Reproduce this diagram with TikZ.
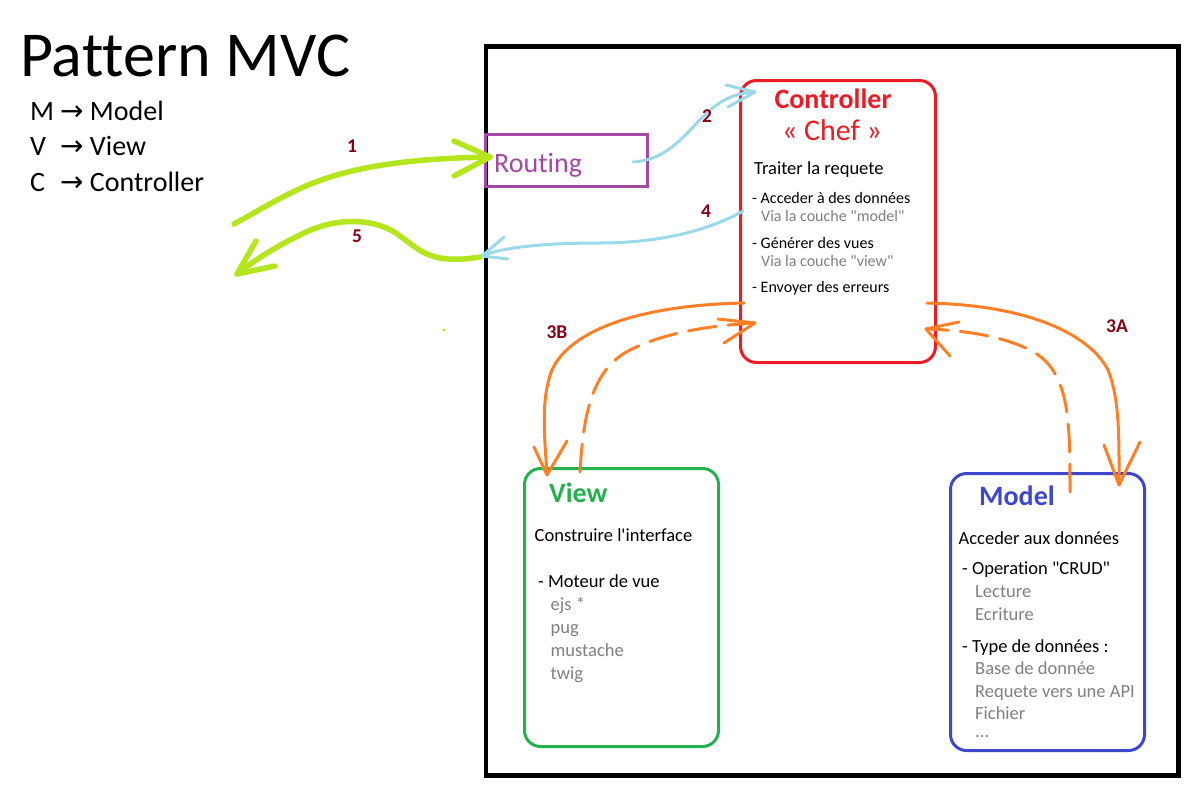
\documentclass[tikz,border=0pt]{standalone}
\usepackage{fontspec}
\setmainfont{Carlito}[Ligatures={TeXOff,NoCommon}]
\newfontfamily\arrowfont{DejaVu Sans}
\definecolor{ctrlred}{HTML}{ED1C24}
\definecolor{viewgreen}{HTML}{22B14C}
\definecolor{modelblue}{HTML}{3F48CC}
\definecolor{routepurple}{HTML}{A349A4}
\definecolor{callorange}{HTML}{FF7F27}
\definecolor{reqlime}{HTML}{B5E61D}
\definecolor{replyblue}{HTML}{99D9EA}
\definecolor{numred}{HTML}{880015}
\definecolor{notegray}{HTML}{7F7F7F}
\begin{document}
\begin{tikzpicture}[x=1pt,y=-1pt,
  big/.style={inner sep=0pt,font=\fontsize{28}{34}\selectfont},
  head/.style={inner sep=0pt,anchor=base west,font=\fontsize{28}{34}\selectfont\bfseries},
  body/.style={inner sep=0pt,anchor=base west,font=\fontsize{18.5}{22}\selectfont},
  fine/.style={inner sep=0pt,anchor=base west,font=\fontsize{16}{19}\selectfont},
  note/.style={text=notegray},
  num/.style={inner sep=0pt,text=numred,font=\fontsize{19.5}{22}\selectfont\bfseries},
  box/.style={draw=#1,line width=3pt,rounded corners=16pt,anchor=north west},
  req/.style={draw=reqlime,line width=5.5pt,line cap=round,line join=round},
  resp/.style={draw=replyblue,line width=3pt,line cap=round,line join=round},
  call/.style={draw=callorange,line width=3pt,line cap=round,line join=round},
  callback/.style={call,dash pattern=on 28pt off 12pt}]
\useasboundingbox (0,0) rectangle (1195,796);

\node[inner sep=0pt,anchor=base west,font=\fontsize{64}{72}\selectfont] (ttl) at (20,76) {Pattern MVC};
\node[big,anchor=base west] (legM) at (30,120) {\makebox[30pt][l]{M}{\arrowfont →}\ Model};
\node[big,anchor=base west] (legV) at (30,155.5) {\makebox[30pt][l]{V}{\arrowfont →}\ View};
\node[big,anchor=base west] (legC) at (30,191) {\makebox[30pt][l]{C}{\arrowfont →}\ Controller};

\node[draw,line width=4.5pt,anchor=north west,minimum width=692.5pt,minimum height=729pt] (app) at (483.5,44) {};
\node[draw=routepurple,line width=3pt,anchor=north west,minimum width=162pt,minimum height=52pt] (route) at (484,132.5) {};
\node[big,anchor=base west,text=routepurple] (routeTxt) at (494,172) {Routing};

\node[box=ctrlred,minimum width=195pt,minimum height=282pt] (ctrl) at (739,79) {};
\node[head,anchor=base,text=ctrlred] (ctrlTtl) at (833,108) {Controller};
\node[big,anchor=base,text=ctrlred,font=\fontsize{30}{34}\selectfont] (ctrlChef) at (832,140) {« Chef »};
\node[body] (ctrlMain) at (754,174) {Traiter la requete};
\node[fine] (ctrlA) at (752,203) {- Acceder à des données};
\node[fine,note] (ctrlAvia) at (761,221.5) {Via la couche "model"};
\node[fine] (ctrlB) at (752,248) {- Générer des vues};
\node[fine,note] (ctrlBvia) at (761,266.5) {Via la couche "view"};
\node[fine] (ctrlC) at (752,292.5) {- Envoyer des erreurs};

\node[box=viewgreen,minimum width=194pt,minimum height=278pt] (view) at (523,467) {};
\node[head,text=viewgreen] (viewTtl) at (549,502) {View};
\node[body] (viewMain) at (534.5,541) {Construire l'interface};
\node[body] (viewEng) at (538,587) {- Moteur de vue};
\node[body,note] (viewEjs) at (550.5,610) {ejs *};
\node[body,note] (viewPug) at (550.5,633) {pug};
\node[body,note] (viewMus) at (550.5,656) {mustache};
\node[body,note] (viewTwig) at (550.5,679) {twig};

\node[box=modelblue,minimum width=194pt,minimum height=277pt] (model) at (949,472) {};
\node[head,text=modelblue] (modelTtl) at (979,505) {Model};
\node[body] (modelMain) at (958.5,544) {Acceder aux données};
\node[body] (modelCrud) at (962,574) {- Operation "CRUD"};
\node[body,note] (modelRead) at (975,597) {Lecture};
\node[body,note] (modelWrite) at (975,620) {Ecriture};
\node[body] (modelType) at (962,652) {- Type de données :};
\node[body,note] (modelDb) at (975,674.5) {Base de donnée};
\node[body,note] (modelApi) at (975,697) {Requete vers une API};
\node[body,note] (modelFile) at (975,719) {Fichier};
\node[body,note] (modelMore) at (975,737) {...};

\coordinate (g1s) at (234,224);
\coordinate (g1t) at (490,157);
\coordinate (g5s) at (480,257);
\coordinate (g5t) at (237,274);
\coordinate (b2s) at (633,162);
\coordinate (b2t) at (755,92);
\coordinate (b4s) at (743,211);
\coordinate (b4t) at (482,256);
\coordinate (o3bs) at (744,303);
\coordinate (o3bt) at (547,475);
\coordinate (o3bd) at (580,472);
\coordinate (o3bh) at (755,323);
\coordinate (o3as) at (927,303);
\coordinate (o3at) at (1119,485);
\coordinate (o3ad) at (1070,492);
\coordinate (o3ah) at (926,329);

\draw[req] (g1s) .. controls (300,188) and (330,160) .. (g1t);
\draw[req] (g1t) -- +(-36,-16) (g1t) -- +(-36,19);
\draw[req] (g5s) .. controls (430,265) and (420,250) .. (400,236) .. controls (380,220) and (340,214) .. (300,235) .. controls (275,247) and (255,260) .. (g5t);
\draw[req] (g5t) -- +(19,-33) (g5t) -- +(38,-8);

\draw[resp] (b2s) .. controls (670,160) and (688,130) .. (705,115) .. controls (720,100) and (735,93) .. (b2t);
\draw[resp] (b2t) -- +(-29,-7) (b2t) -- +(-27,15);
\draw[resp] (b4s) .. controls (710,230) and (660,243) .. (600,243) .. controls (540,243) and (500,248) .. (b4t);
\draw[resp] (b4t) -- +(22,-19) (b4t) -- +(26,3);

\draw[call] (o3bs) .. controls (640,305) and (570,330) .. (552,370) .. controls (540,400) and (545,440) .. (o3bt);
\draw[call] (o3bt) -- +(-13,-28) (o3bt) -- +(20,-34);
\draw[callback] (o3bd) .. controls (583,420) and (590,370) .. (630,350) .. controls (670,330) and (720,325) .. (o3bh);
\draw[call] (o3bh) -- +(-37,-4) (o3bh) -- +(-31,20);
\draw[call] (o3as) .. controls (1030,305) and (1090,335) .. (1108,370) .. controls (1120,400) and (1119,440) .. (o3at);
\draw[call] (o3at) -- +(-15,-40) (o3at) -- +(21,-43);
\draw[callback] (o3ad) .. controls (1070,420) and (1070,370) .. (1030,350) .. controls (1000,335) and (960,330) .. (o3ah);
\draw[call] (o3ah) -- +(33,-7) (o3ah) -- +(24,27);

\fill[reqlime] (444,330) circle (1.5);

\node[num] (n1) at (352,146) {1};
\node[num] (n2) at (707,116) {2};
\node[num] (n4) at (706,211) {4};
\node[num] (n5) at (357,236) {5};
\node[num] (n3b) at (557,332) {3B};
\node[num] (n3a) at (1117,326) {3A};
\end{tikzpicture}
\end{document}
